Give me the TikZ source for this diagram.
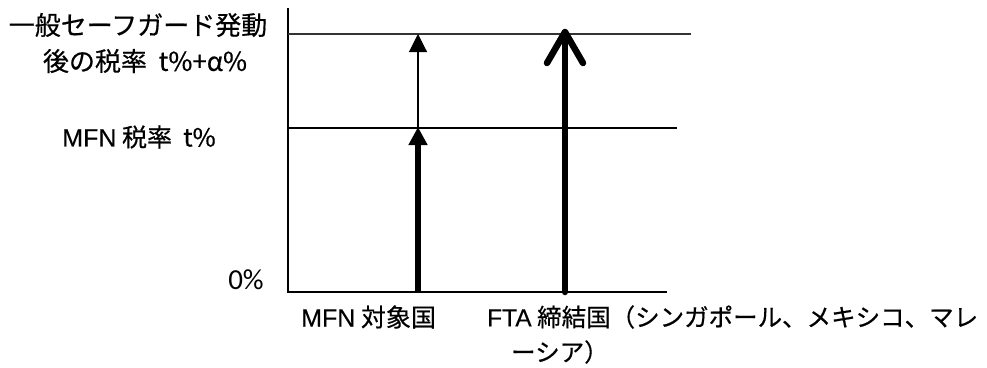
\documentclass[tikz,border=0pt]{standalone}
\usepackage{fontspec}
\setmainfont{Noto Sans CJK JP}[FakeBold=0.5]
\newfontfamily\carlito{Carlito}
\newfontfamily\lsans{Liberation Sans}[FakeBold=0.3]
\usetikzlibrary{arrows.meta}
\begin{document}
\begin{tikzpicture}[x=1pt,y=-1pt,
  lbl/.style={inner sep=0pt,font=\fontsize{24.5}{28}\selectfont},
  axisline/.style={line width=1.6pt,line cap=rect},
  levelline/.style={line width=1.1pt},
  thickarrow/.style={line width=6pt,-{Triangle[width=18pt,length=18pt]}},
  thinarrow/.style={line width=1.1pt,-{Triangle[width=18pt,length=18pt]}},
  bigarrow/.style={line width=6.5pt,line cap=round,line join=round}]
\useasboundingbox (0,0) rectangle (987,367);
% axes
\coordinate (top) at (288,9);
\coordinate (origin) at (288,292);
\coordinate (xend) at (666,292);
\draw[axisline] (top) -- (origin) -- (xend);
% level lines
\coordinate (l1a) at (288,34);
\coordinate (l1b) at (691,34);
\coordinate (l2a) at (288,128);
\coordinate (l2b) at (677,128);
\draw[levelline,black!80] (l1a) -- (l1b);
\draw[levelline] (l2a) -- (l2b);
% MFN arrow
\coordinate (m0) at (418,292);
\coordinate (m1) at (418,127);
\coordinate (m2) at (418,34);
\draw[thickarrow] (m0) -- (m1);
\draw[thinarrow] (m1) -- (m2);
% FTA arrow
\coordinate (f0) at (565,292);
\coordinate (f1) at (565,32);
\coordinate (fl) at (547,63);
\coordinate (fr) at (583,63);
\draw[bigarrow] (f0) -- (f1);
\draw[bigarrow] (fl) -- (f1) -- (fr);
% labels
\node[lbl,font=\fontsize{26}{30}\selectfont] (sg1) at (138,25) {一般セーフガード発動};
\node[lbl,font=\fontsize{26}{30}\selectfont] (sg2) at (145,61) {後の税率\ \ t\%+α\%};
\node[lbl,font=\fontsize{25}{30}\selectfont] (mfnrate) at (139,137) {{\lsans MFN} 税率\ \ t\%};
\node[lbl,font=\carlito\fontsize{29}{32}\selectfont] (zero) at (246,280) {0\%};
\node[lbl,anchor=west,font=\fontsize{25}{30}\selectfont] (mfnc) at (301,317) {{\lsans MFN} 対象国};
\node[lbl,anchor=west] (fta1) at (487,317) {{\lsans FTA} 締結国（シンガポール、メキシコ、マレ};
\node[lbl,anchor=west] (fta2) at (511,352) {ーシア）};
\end{tikzpicture}
\end{document}
